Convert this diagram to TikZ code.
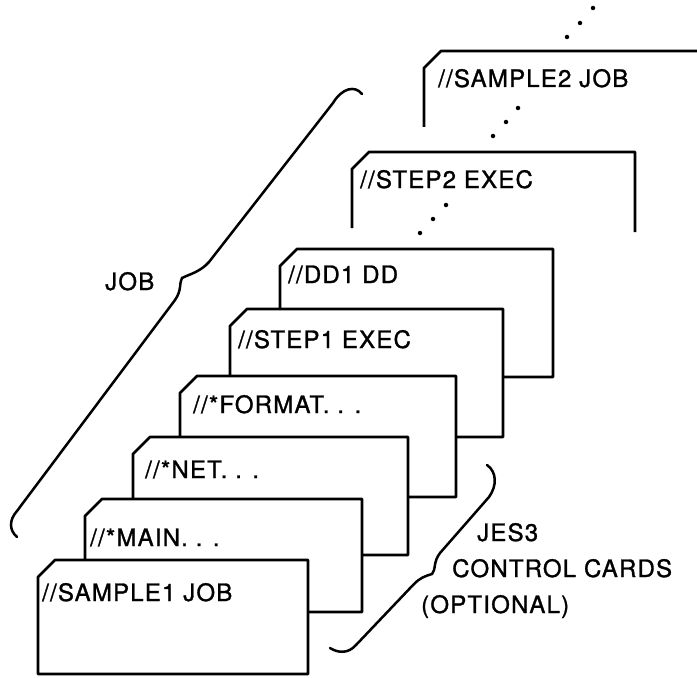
\documentclass[tikz,border=0pt]{standalone}
\usepackage{fontspec}
\setmainfont{TeX Gyre Heros}[LetterSpace=5, FakeBold=1.2]
\tikzset{
  card/.style={draw=black, line width=2.8bp, fill=white, line join=round},
  opencard/.style={draw=black, line width=2.8bp, line join=round},
  brace/.style={draw=black, line width=2.5bp, line cap=round},
  lbl/.style={anchor=base west, inner sep=0pt, font=\fontsize{24bp}{28bp}\selectfont},
  dotmark/.style={circle, fill=black, inner sep=0pt, minimum size=4.5bp}
}
\begin{document}
\begin{tikzpicture}[x=1bp, y=-1bp]
\useasboundingbox (0,0) rectangle (697,678);
% open cards at the back
\draw[opencard] (424,127) -- (424,68) -- (441,51) -- (700,51);
\draw[opencard] (352,228) -- (352,169) -- (369,152) -- (635,152) -- (635,232);
% dots
\node[dotmark] (d1) at (593,8) {};
\node[dotmark] (d2) at (580,23) {};
\node[dotmark] (d3) at (567,37) {};
\node[dotmark] (d4) at (518,108) {};
\node[dotmark] (d5) at (506,122) {};
\node[dotmark] (d6) at (493,136) {};
\node[dotmark] (d7) at (446,205) {};
\node[dotmark] (d8) at (433,219) {};
\node[dotmark] (d9) at (420,233) {};
% stacked cards, back to front
\draw[card] (280,377) -- (280,266) -- (297,249) -- (553,249) -- (553,377) -- cycle;
\draw[card] (230,437) -- (230,326) -- (247,309) -- (503,309) -- (503,437) -- cycle;
\draw[card] (180,497) -- (180,393) -- (197,376) -- (456,376) -- (456,497) -- cycle;
\draw[card] (133,555) -- (133,454) -- (150,437) -- (408,437) -- (408,555) -- cycle;
\draw[card] (85,612) -- (85,516) -- (102,499) -- (362,499) -- (362,612) -- cycle;
\draw[card] (38,674) -- (38,577) -- (55,560) -- (308,560) -- (308,674) -- cycle;
% card texts
\node[lbl] (sample2) at (438,87) {//SAMPLE2 JOB};
\node[lbl] (step2) at (360,188) {//STEP2 EXEC};
\node[lbl] (dd1) at (288,283) {//DD1 DD};
\node[lbl] (step1) at (238,348) {//STEP1 EXEC};
\node[lbl] (format) at (193,413) {//*FORMAT. . .};
\node[lbl] (net) at (145,478) {//*NET. . .};
\node[lbl] (main) at (90,546) {//*MAIN. . .};
\node[lbl] (sample1) at (42,601) {//SAMPLE1 JOB};
% braces
\draw[brace] (17,537) .. controls (9,530) and (9,520) .. (17,511) -- (175,300)
  .. controls (182,290) and (179,283) .. (182,278)
  .. controls (190,274) and (200,272) .. (209,262) -- (333,103)
  .. controls (342,88) and (355,85) .. (362,94);
\draw[brace] (487,465) .. controls (497,472) and (497,486) .. (489,497) -- (440,553)
  .. controls (433,562) and (436,570) .. (432,574)
  .. controls (425,576) and (420,578) .. (414,584) -- (356,645)
  .. controls (348,654) and (338,653) .. (330,648);
% labels
\node[lbl] (job) at (105,290) {JOB};
\node[lbl] (jes) at (477,541) {JES3};
\node[lbl] (ctl) at (452,577) {CONTROL CARDS};
\node[lbl] (opt) at (421,613) {(OPTIONAL)};
\end{tikzpicture}
\end{document}
